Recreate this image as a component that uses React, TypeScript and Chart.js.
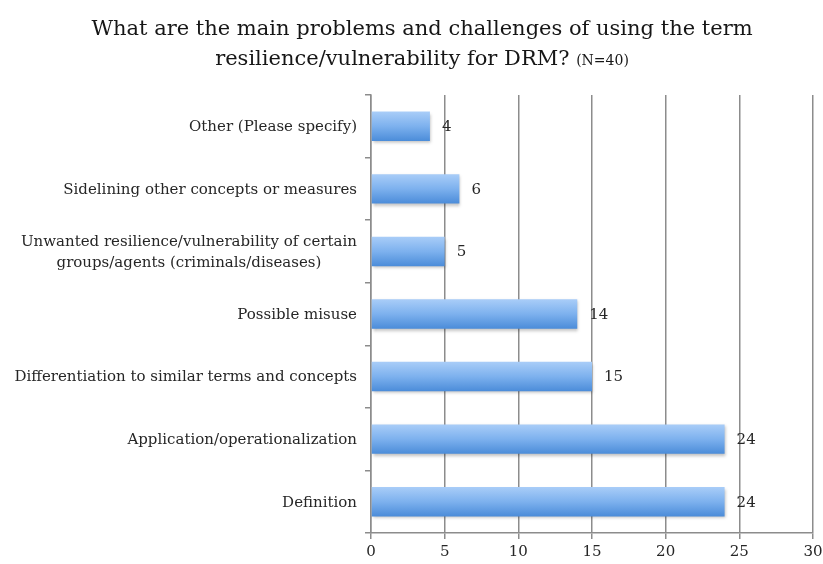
import React, { useEffect, useRef } from "react";
import { Chart, registerables } from "chart.js";

Chart.register(...registerables);

const categories: (string | string[])[] = [
  "Other (Please specify)",
  "Sidelining other concepts or measures",
  ["Unwanted resilience/vulnerability of certain", "groups/agents (criminals/diseases)"],
  "Possible misuse",
  "Differentiation to similar terms and concepts",
  "Application/operationalization",
  "Definition",
];
const values: number[] = [4, 6, 5, 14, 15, 24, 24];
const xTicks: number[] = [0, 5, 10, 15, 20, 25, 30];
const titleLine1 = "What are the main problems and challenges of using the term";
const titleLine2 = "resilience/vulnerability for DRM?";
const titleNote = "(N=40)";

const FONT = "'DejaVu Serif', 'Liberation Serif', serif";
const TEXT = "#262626";

export default function App() {
  const ref = useRef<HTMLCanvasElement>(null);
  useEffect(() => {
    document.body.style.margin = "0";
    const canvas = ref.current!;
    const textPlugin = {
      id: "customText",
      afterDraw(chart: any) {
        const ctx = chart.ctx as CanvasRenderingContext2D;
        ctx.save();
        // title
        ctx.fillStyle = "#161616";
        ctx.textBaseline = "alphabetic";
        ctx.textAlign = "center";
        ctx.font = `21px ${FONT}`;
        ctx.fillText(titleLine1, 422, 35);
        const w2 = ctx.measureText(titleLine2 + " ").width;
        ctx.font = `14px ${FONT}`;
        const wn = ctx.measureText(titleNote).width;
        const start = 422 - (w2 + wn) / 2;
        ctx.textAlign = "left";
        ctx.font = `21px ${FONT}`;
        ctx.fillText(titleLine2 + " ", start, 65);
        ctx.font = `14px ${FONT}`;
        ctx.fillText(titleNote, start + w2, 65);
        // y labels
        const ys = chart.scales.y;
        const right = ys.right - 14;
        ctx.font = `15px ${FONT}`;
        ctx.fillStyle = TEXT;
        ctx.textBaseline = "middle";
        categories.forEach((lab, i) => {
          const y = ys.getPixelForValue(i) + 1;
          const lines = Array.isArray(lab) ? lab : [lab];
          const maxW = Math.max(...lines.map((l) => ctx.measureText(l).width));
          const lh = 21;
          lines.forEach((l, j) => {
            const ly = y + (j - (lines.length - 1) / 2) * lh;
            if (lines.length > 1) {
              ctx.textAlign = "center";
              ctx.fillText(l, right - maxW / 2, ly);
            } else {
              ctx.textAlign = "right";
              ctx.fillText(l, right, ly);
            }
          });
        });
        // value labels
        const meta = chart.getDatasetMeta(0);
        ctx.textAlign = "left";
        meta.data.forEach((bar: any, i: number) => {
          ctx.fillText(String(values[i]), bar.x + 12, bar.y + 1);
        });
        ctx.restore();
      },
      beforeDatasetsDraw(chart: any) {
        const ctx = chart.ctx as CanvasRenderingContext2D;
        ctx.save();
        ctx.shadowColor = "rgba(0,0,0,0.25)";
        ctx.shadowBlur = 3;
        ctx.shadowOffsetX = 1;
        ctx.shadowOffsetY = 2;
      },
      afterDatasetsDraw(chart: any) {
        chart.ctx.restore();
      },
    };

    const chart = new Chart(canvas, {
      type: "bar",
      data: {
        labels: categories as any,
        datasets: [
          {
            data: values,
            backgroundColor: (c: any) => {
              const ch = c.chart;
              const ys = ch.scales && ch.scales.y;
              if (!ys || c.dataIndex === undefined) return "#6fa6e8";
              const y = ys.getPixelForValue(c.dataIndex);
              const band = ys.getPixelForValue(1) - ys.getPixelForValue(0);
              const h = Math.abs(band) * 0.47;
              if (!isFinite(y) || !isFinite(h) || h <= 0) return "#6fa6e8";
              const g = ch.ctx.createLinearGradient(0, y - h / 2, 0, y + h / 2);
              g.addColorStop(0, "#a9cdf8");
              g.addColorStop(0.5, "#7db1ee");
              g.addColorStop(1, "#4b8cd9");
              return g;
            },
            borderWidth: 0,
            categoryPercentage: 1,
            barPercentage: 0.47,
          },
        ],
      },
      options: {
        indexAxis: "y",
        responsive: false,
        animation: false,
        maintainAspectRatio: false,
        layout: { padding: { top: 95, right: 0, left: 0, bottom: 0 } },
        plugins: { legend: { display: false }, tooltip: { enabled: false }, title: { display: false } },
        scales: {
          x: {
            min: 0,
            max: 30,
            afterBuildTicks: (s: any) => {
              s.ticks = xTicks.map((v) => ({ value: v }));
            },
            afterFit: (s: any) => {
              s.height = 31;
              s.paddingRight = 10;
            },
            ticks: { font: { family: FONT, size: 15 }, color: TEXT, padding: 4 },
            grid: { color: "#8c8c8c", lineWidth: 1.5, tickLength: 6 },
            border: { color: "#8c8c8c", width: 1.5 },
          },
          y: {
            afterFit: (s: any) => {
              s.width = 371;
            },
            ticks: { callback: () => "" },
            grid: { drawOnChartArea: false, offset: true, tickLength: 6, color: "#8c8c8c", lineWidth: 1.5 },
            border: { color: "#8c8c8c", width: 1.5 },
          },
        },
      },
      plugins: [textPlugin],
    } as any);
    return () => chart.destroy();
  }, []);
  return (
    <div style={{ width: 823, height: 564 }}>
      <canvas ref={ref} width={823} height={564} />
    </div>
  );
}
